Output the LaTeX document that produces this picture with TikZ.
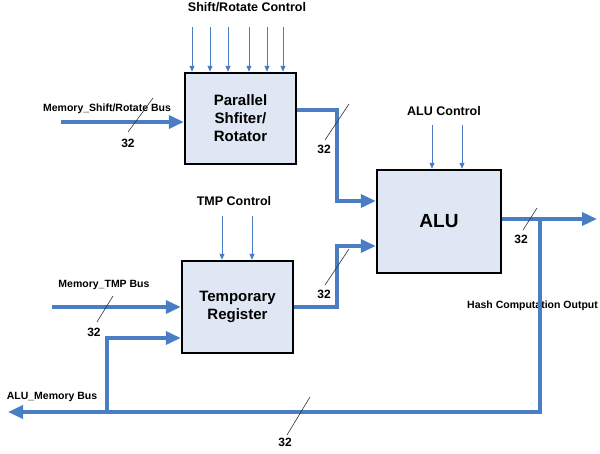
\documentclass[tikz,border=0pt]{standalone}
\usepackage{fontspec}
\setmainfont{Liberation Sans}
\usetikzlibrary{arrows.meta}
\definecolor{busblue}{RGB}{74,126,196}
\definecolor{boxfill}{RGB}{222,231,243}
\begin{document}
\begin{tikzpicture}[x=1pt,y=-1pt,
  blk/.style={draw=black,line width=2.4pt,fill=boxfill,inner sep=0pt,align=center,font=\bfseries\fontsize{15}{18}\selectfont},
  bus/.style={draw=busblue,line width=3.5pt,-{Triangle[length=15pt,width=13pt]}},
  busline/.style={draw=busblue,line width=3.5pt},
  ctrl/.style={draw=busblue,line width=1pt,-{Triangle[length=6pt,width=5pt]}},
  slash/.style={draw=black!80,line width=0.6pt},
  lbl/.style={font=\bfseries\fontsize{12.5}{14}\selectfont,inner sep=0pt},
  sml/.style={font=\bfseries\fontsize{10.5}{12}\selectfont,inner sep=0pt},
  num/.style={font=\bfseries\fontsize{12}{14}\selectfont,inner sep=0pt}]
\useasboundingbox (0,0) rectangle (600,454);
% blocks
\node[blk,minimum width=111pt,minimum height=91pt] (par) at (240.5,118.5) {Parallel\\Shfiter/\\Rotator};
\node[blk,minimum width=124pt,minimum height=103pt,font=\bfseries\fontsize{19}{22}\selectfont] (alu) at (439,221.5) {ALU};
\node[blk,minimum width=111pt,minimum height=92pt] (tmp) at (237.5,307) {Temporary\\Register};
% labels
\node[lbl] (lsr) at (247,7) {Shift/Rotate Control};
\node[lbl] (lalu) at (444,111) {ALU Control};
\node[lbl] (ltmp) at (234,201) {TMP Control};
\node[sml] (lmsr) at (107,109) {Memory\_Shift/Rotate Bus};
\node[sml] (lmt) at (104,285) {Memory\_TMP Bus};
\node[sml,anchor=west] (lhash) at (467,306) {Hash Computation Output};
\node[sml] (lam) at (52,397) {ALU\_Memory Bus};
% control arrows
\foreach \x [count=\i] in {192,210,228,249,267,283} {
  \coordinate (sc\i) at (\x,27);
  \draw[ctrl] (sc\i) -- (sc\i |- par.north);
}
\foreach \x [count=\i] in {432,462} {
  \coordinate (ac\i) at (\x,125);
  \draw[ctrl] (ac\i) -- (ac\i |- alu.north);
}
\foreach \x [count=\i] in {222,252} {
  \coordinate (tc\i) at (\x,216);
  \draw[ctrl] (tc\i) -- (tc\i |- tmp.north);
}
% buses
\coordinate (msin) at (61,122);
\draw[bus] (msin) -- (msin -| par.west);
\coordinate (j1) at (337,110);
\coordinate (k1) at (337,201);
\draw[bus] (j1 -| par.east) -- (j1) -- (k1) -- (k1 -| alu.west);
\coordinate (j2) at (337,307);
\coordinate (k2) at (337,246);
\draw[bus] (tmp.east) -- (j2) -- (k2) -- (k2 -| alu.west);
\coordinate (o1) at (597,219);
\draw[bus] (o1 -| alu.east) -- (o1);
\coordinate (j3) at (540,219);
\coordinate (b1) at (540,412);
\coordinate (b0) at (8,412);
\draw[bus] (j3) -- (b1) -- (b0);
\coordinate (b2) at (107,412);
\coordinate (b3) at (107,338);
\draw[bus] (b2) -- (b3) -- (b3 -| tmp.west);
\coordinate (mt) at (52,307);
\draw[bus] (mt) -- (mt -| tmp.west);
% bus width marks
\coordinate (s1a) at (153,98); \coordinate (s1b) at (128,132);
\draw[slash] (s1a) -- (s1b);
\node[num] (n1) at (128,143) {32};
\coordinate (s2a) at (349,104); \coordinate (s2b) at (325,140);
\draw[slash] (s2a) -- (s2b);
\node[num] (n2) at (324,149) {32};
\coordinate (s3a) at (349,249); \coordinate (s3b) at (325,285);
\draw[slash] (s3a) -- (s3b);
\node[num] (n3) at (324,294) {32};
\coordinate (s4a) at (537,208); \coordinate (s4b) at (523,230);
\draw[slash] (s4a) -- (s4b);
\node[num] (n4) at (521,239) {32};
\coordinate (s5a) at (113,296); \coordinate (s5b) at (97,322);
\draw[slash] (s5a) -- (s5b);
\node[num] (n5) at (94,332) {32};
\coordinate (s6a) at (310,397); \coordinate (s6b) at (287,435);
\draw[slash] (s6a) -- (s6b);
\node[num] (n6) at (285,442) {32};
\end{tikzpicture}
\end{document}
